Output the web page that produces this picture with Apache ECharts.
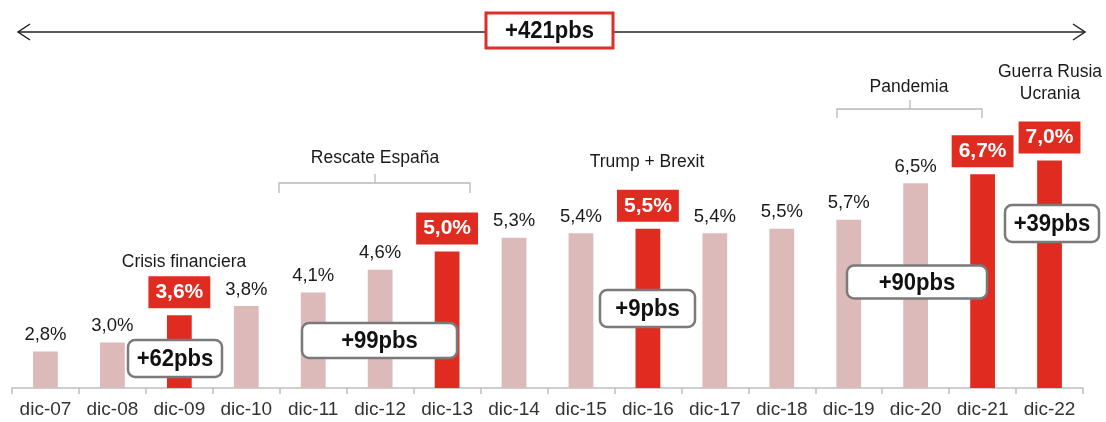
<!DOCTYPE html>
<html>
<head>
<meta charset="utf-8">
<script src="https://cdn.jsdelivr.net/npm/echarts@6/dist/echarts.min.js"></script>
<style>
  html, body { margin: 0; padding: 0; background: #ffffff; }
  #chart { width: 1106px; height: 422px; }
</style>
</head>
<body>
<div id="chart"></div>
<script>
// ---- data ----
var categories = ['dic-07','dic-08','dic-09','dic-10','dic-11','dic-12','dic-13','dic-14',
                  'dic-15','dic-16','dic-17','dic-18','dic-19','dic-20','dic-21','dic-22'];
var values = [2.8, 3.0, 3.6, 3.8, 4.1, 4.6, 5.0, 5.3, 5.4, 5.5, 5.4, 5.5, 5.7, 6.5, 6.7, 7.0];
var highlighted = ['dic-09', 'dic-13', 'dic-16', 'dic-21', 'dic-22'];
var totalChange = '+421pbs';
var pbsTexts = ['+62pbs', '+99pbs', '+9pbs', '+90pbs', '+39pbs'];
var eventTexts = ['Crisis financiera', 'Rescate España', 'Trump + Brexit', 'Pandemia', 'Guerra Rusia\nUcrania'];

// ---- styles ----
var RED = '#e02b20';
var PINK = '#dcbaba';
var FONT = "'Liberation Sans', Arial, sans-serif";

function fmt(v) { return v.toFixed(1).replace('.', ',') + '%'; }

var barData = values.map(function (v, i) {
  var hi = highlighted.indexOf(categories[i]) >= 0;
  return {
    value: v,
    itemStyle: { color: hi ? RED : PINK },
    label: hi ? {
      show: true, position: 'top', distance: 7,
      formatter: function (p) { return fmt(p.value); },
      backgroundColor: RED, color: '#ffffff', fontWeight: 'bold',
      fontSize: 21, lineHeight: 24, padding: [4, 7, 4, 7], fontFamily: FONT
    } : {
      show: true, position: 'top', distance: 7,
      formatter: function (p) { return fmt(p.value); },
      color: '#1a1a1a', fontSize: 18.5, fontFamily: FONT
    }
  };
});

// annotation layout (pixel boxes: centre x, centre y, width, height)
var pbsBoxes = [
  [175, 358.5, 94, 37],
  [379.5, 340.5, 155, 35],
  [647.5, 308.5, 95, 37],
  [917, 282, 140, 33],
  [1052, 223.5, 94, 37]
];
var eventPos = [[184, 262], [375, 158], [647, 162], [909, 87], [1050, 83]];

var graphics = [];
function boldText(t, x, y) {
  return { type: 'text', x: x, y: y, z: 11, scaleX: 0.92,
    style: { text: t, x: 0, y: 0, align: 'center', verticalAlign: 'middle', font: 'bold 24px ' + FONT, fill: '#111' } };
}
// long arrow
graphics.push({ type: 'polyline', shape: { points: [[18, 32], [1085, 32]] }, style: { stroke: '#222', lineWidth: 1.5, fill: null } });
graphics.push({ type: 'polyline', shape: { points: [[30, 24], [18, 32], [30, 40]] }, style: { stroke: '#222', lineWidth: 1.5, fill: null } });
graphics.push({ type: 'polyline', shape: { points: [[1073, 24], [1085, 32], [1073, 40]] }, style: { stroke: '#222', lineWidth: 1.5, fill: null } });
graphics.push({ type: 'rect', shape: { x: 486, y: 13, width: 127, height: 35 }, style: { fill: '#fff', stroke: '#d9302a', lineWidth: 3 }, z: 10 });
graphics.push(boldText(totalChange, 549.5, 31.5));

// brackets
function bracket(x1, x2, xm, y, drop, rise) {
  graphics.push({ type: 'polyline', shape: { points: [[x1, y + drop], [x1, y], [x2, y], [x2, y + drop]] }, style: { stroke: '#b8b8b8', lineWidth: 1.3, fill: null } });
  graphics.push({ type: 'polyline', shape: { points: [[xm, y], [xm, y - rise]] }, style: { stroke: '#b8b8b8', lineWidth: 1.3, fill: null } });
}
bracket(279, 470, 375, 183, 10, 9);
bracket(837, 982, 910, 109, 9, 9);

// event texts
eventTexts.forEach(function (t, i) {
  graphics.push({ type: 'text', x: eventPos[i][0], y: eventPos[i][1], z: 11,
    style: { text: t, x: 0, y: 0, align: 'center', verticalAlign: 'middle', fontFamily: FONT, fontSize: 17.5, lineHeight: 22, fill: '#1a1a1a' } });
});

// pbs boxes
pbsTexts.forEach(function (t, i) {
  var b = pbsBoxes[i];
  graphics.push({ type: 'rect', z: 10, shape: { x: b[0] - b[2] / 2, y: b[1] - b[3] / 2, width: b[2], height: b[3], r: 7 },
    style: { fill: '#fff', stroke: '#7a7a7a', lineWidth: 2.5 } });
  graphics.push(boldText(t, b[0], b[1] + 1));
});

var chart = echarts.init(document.getElementById('chart'), null, { renderer: 'canvas' });
chart.setOption({
  animation: false,
  backgroundColor: '#ffffff',
  grid: { left: 12, right: 23, top: 115, bottom: 34, containLabel: false },
  xAxis: {
    type: 'category', data: categories,
    axisLine: { lineStyle: { color: '#bfbfbf', width: 1.5 } },
    axisTick: { show: true, length: 6, lineStyle: { color: '#bfbfbf', width: 1.5 } },
    axisLabel: { color: '#333', fontSize: 19, fontFamily: FONT, margin: 12, interval: 0 }
  },
  yAxis: { type: 'value', min: 2, max: 8, show: false, splitLine: { show: false } },
  series: [{ type: 'bar', data: barData, barWidth: '37%' }],
  graphic: graphics
});
</script>
</body>
</html>
